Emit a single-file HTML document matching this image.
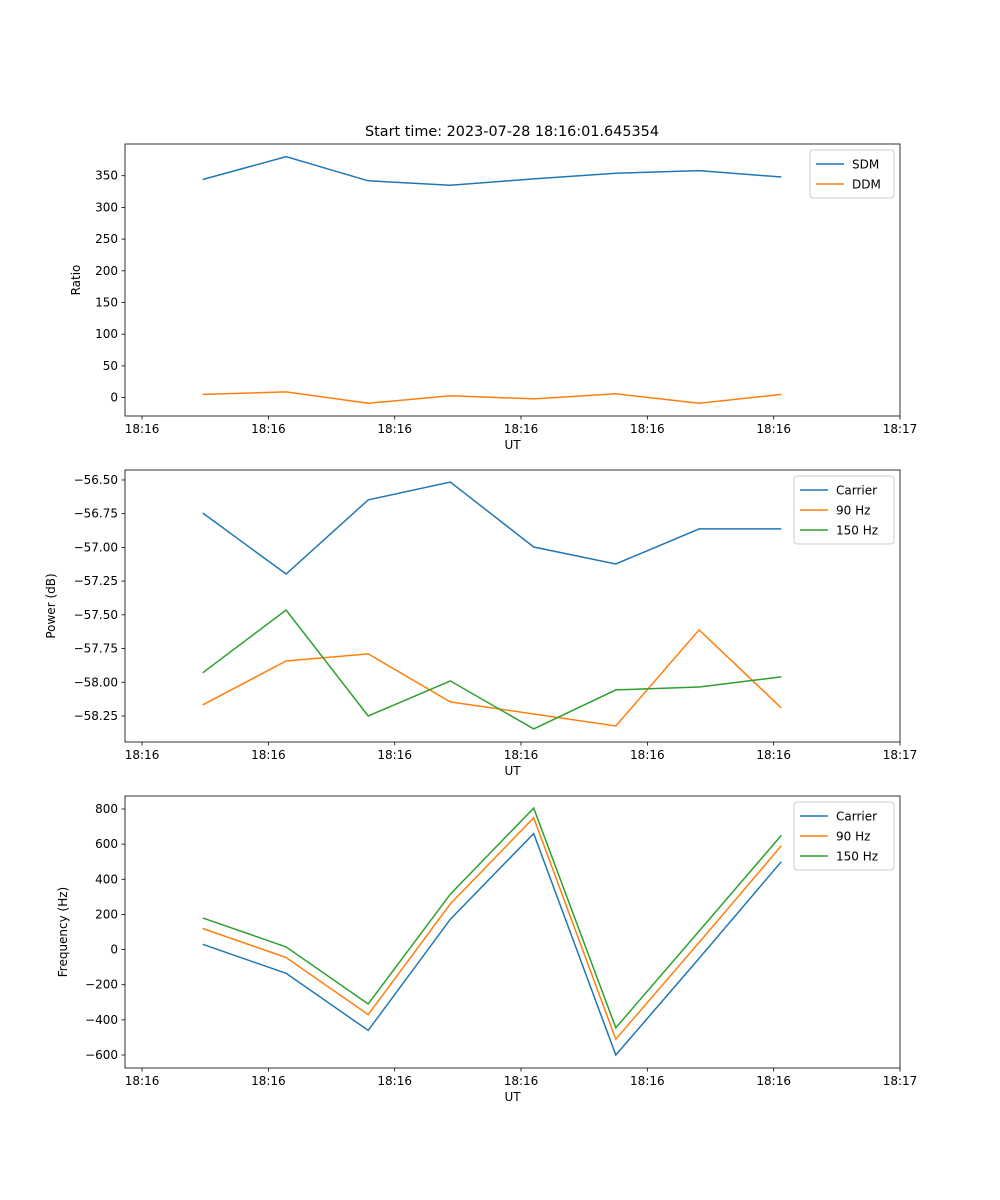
<!DOCTYPE html>
<html><head><meta charset="utf-8"><style>body{margin:0;background:#fff}svg{display:block;font-family:"DejaVu Sans","Liberation Sans",sans-serif}</style></head>
<body>
<svg id="fig" width="1000" height="1200" xmlns="http://www.w3.org/2000/svg"></svg>
<script>
const xTimes = [0.48, 1.14, 1.79, 2.44, 3.10, 3.75, 4.41, 5.06];
const xTickVals = [0,1,2,3,4,5,6];
const xTickLabels = ["18:16","18:16","18:16","18:16","18:16","18:16","18:17"];
const sdm = [344, 380, 342, 335, 345, 354, 358, 348];
const ddm = [5, 9, -9, 3, -2, 6, -9, 5];
const ratioTicks = [0,50,100,150,200,250,300,350];
const powCarrier = [-56.745, -57.197, -56.648, -56.515, -56.997, -57.123, -56.863, -56.863];
const pow90 = [-58.168, -57.842, -57.79, -58.146, -58.235, -58.324, -57.612, -58.19];
const pow150 = [-57.93, -57.464, -58.25, -57.99, -58.346, -58.057, -58.035, -57.96];
const powTicks = [-56.5,-56.75,-57,-57.25,-57.5,-57.75,-58,-58.25];
const freqCarrier = [30, -135, -460, 172, 660, -600, -50, 500];
const freq90 = [120, -45, -370, 260, 750, -510, 40, 590];
const freq150 = [180, 15, -310, 315, 805, -445, 105, 650];
const freqTicks = [-600,-400,-200,0,200,400,600,800];

const NS="http://www.w3.org/2000/svg", svg=document.getElementById('fig');
function mk(tag, attrs, parent){const e=document.createElementNS(NS,tag);for(const k in attrs)e.setAttribute(k,attrs[k]);(parent||svg).appendChild(e);return e;}
const X0=125,X1=900,T0=-0.135,T1=6.0;
function xs(t){return X0+(t-T0)/(T1-T0)*(X1-X0);}
const C=['#1f77b4','#ff7f0e','#2ca02c'];

function panel(name, top, ymin, ymax, ticks, fmt, ylabel, series, labels, legW, ylabX){
  const bot=top+272;
  const g=mk('g',{});
  
  
  const ys=v=>bot-(v-ymin)/(ymax-ymin)*272;
  series.forEach((s,i)=>{
    const p=mk('polyline',{points:s.map((v,j)=>xs(xTimes[j]).toFixed(1)+','+ys(v).toFixed(1)).join(' '),fill:'none',stroke:C[i],'stroke-width':1.5},g);
    
    
  });
  const f=mk('rect',{x:X0,y:top,width:X1-X0,height:272,fill:'none',stroke:'#000','stroke-width':0.8},g);
  
  
  xTickVals.forEach((t,i)=>{
    const x=xs(t);
    mk('line',{x1:x,x2:x,y1:bot,y2:bot+3.5,stroke:'#000','stroke-width':0.8},g);
    const tx=mk('text',{x:x,y:bot+17,'font-size':12,'text-anchor':'middle'},g);tx.textContent=xTickLabels[i];
    
    
  });
  ticks.forEach(v=>{
    const y=ys(v);
    mk('line',{x1:X0,x2:X0-3.5,y1:y,y2:y,stroke:'#000','stroke-width':0.8},g);
    const tx=mk('text',{x:X0-7,y:y+4,'font-size':12,'text-anchor':'end'},g);tx.textContent=fmt(v);
    
    
  });
  const xl=mk('text',{x:(X0+X1)/2,y:bot+33,'font-size':12,'text-anchor':'middle'},g);xl.textContent='UT';
  
  
  const yl=mk('text',{x:ylabX,y:top+136,'font-size':12,'text-anchor':'middle',transform:`rotate(-90 ${ylabX} ${top+136})`},g);yl.textContent=ylabel;
  
  
  const lg=mk('g',{},g);
  
  
  const lx=X1-6-legW, ly=top+6, lh=8+labels.length*20;
  mk('rect',{x:lx,y:ly,width:legW,height:lh,rx:3,fill:'#fff','fill-opacity':0.8,stroke:'#ccc'},lg);
  labels.forEach((l,i)=>{
    const yy=ly+14+i*20;
    mk('line',{x1:lx+6,x2:lx+34,y1:yy,y2:yy,stroke:C[i],'stroke-width':1.5},lg);
    const t=mk('text',{x:lx+42,y:yy+4.5,'font-size':12},lg);t.textContent=l;
    
    
  });
}
const tt=mk('text',{x:512,y:136,'font-size':14.4,'text-anchor':'middle'});tt.textContent='Start time: 2023-07-28 18:16:01.645354';


panel('ratio-panel',144,-29,400,ratioTicks,v=>String(v),'Ratio',[sdm,ddm],['SDM','DDM'],84,80);
panel('power-panel',470,-58.443,-56.426,powTicks,v=>'\u2212'+Math.abs(v).toFixed(2),'Power (dB)',[powCarrier,pow90,pow150],['Carrier','90 Hz','150 Hz'],100,55);
panel('frequency-panel',796,-674,874,freqTicks,v=>(v<0?'\u2212':'')+Math.abs(v),'Frequency (Hz)',[freqCarrier,freq90,freq150],['Carrier','90 Hz','150 Hz'],100,67);
</script>
</body></html>
